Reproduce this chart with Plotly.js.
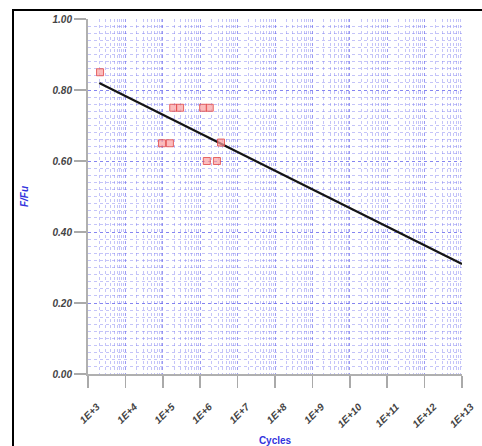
<!DOCTYPE html>
<html>
<head>
<meta charset="utf-8">
<script src="https://cdn.plot.ly/plotly-3.0.1.min.js"></script>
<style>
  html, body { margin: 0; padding: 0; background: #fff; }
  #wrap { position: relative; width: 482px; height: 446px; overflow: hidden; }
  #frame { position: absolute; left: 12px; top: 9px; width: 480px; height: 450px; border-left: 2px solid #000; border-top: 2px solid #000; pointer-events: none; }
  #chart { position: absolute; left: 0; top: 0; width: 482px; height: 446px; }
</style>
</head>
<body>
<div id="wrap">
  <div id="chart"></div>
  <div id="frame"></div>
</div>
<script>
// Test points (cycles, F/Fu)
var pointCycles = [2100, 1.9e5, 2.9e5, 1.2e6, 1.8e6, 9.5e4, 1.55e5, 3.6e6, 1.5e6, 2.8e6];
var pointRatio  = [0.85, 0.75, 0.75, 0.75, 0.75, 0.65, 0.65, 0.652, 0.60, 0.60];
// Fitted S-N line endpoints
var lineCycles = [2000, 1e13];
var lineRatio  = [0.82, 0.31];
// Axis ticks
var xTickVals = [1e3, 1e4, 1e5, 1e6, 1e7, 1e8, 1e9, 1e10, 1e11, 1e12, 1e13];
var xTickText = ['1E+3','1E+4','1E+5','1E+6','1E+7','1E+8','1E+9','1E+10','1E+11','1E+12','1E+13'];
var yTickVals = [0, 0.2, 0.4, 0.6, 0.8, 1.0];
var yTickText = ['0.00','0.20','0.40','0.60','0.80','1.00'];

var gridMajor = 'rgba(100,100,235,0.65)';
var gridMinor = 'rgba(125,125,240,0.45)';
var traces = [
  {
    x: lineCycles, y: lineRatio, type: 'scatter', mode: 'lines',
    line: {color: '#151515', width: 2.2}, hoverinfo: 'skip'
  },
  {
    x: pointCycles, y: pointRatio, type: 'scatter', mode: 'markers',
    marker: {symbol: 'square', size: 7, color: 'rgba(250,160,160,0.7)', line: {color: 'rgba(225,70,70,0.8)', width: 1}}
  }
];
var tickFont = {family: 'Liberation Sans, Arial, sans-serif', size: 10, color: '#444', style: 'italic', weight: 'bold'};
var layout = {
  width: 482, height: 446,
  margin: {l: 88, r: 20, t: 19, b: 72},
  paper_bgcolor: '#fff', plot_bgcolor: '#fff',
  showlegend: false,
  xaxis: {
    type: 'log', range: [3, 13],
    tickvals: xTickVals, ticktext: xTickText, tickangle: -45,
    tickfont: tickFont,
    ticks: 'outside', ticklen: 12, tickwidth: 1.5, tickcolor: '#aaa',
    showline: true, linecolor: '#b0b0b0', linewidth: 2,
    showgrid: true, gridcolor: gridMajor, griddash: 'dot', gridwidth: 1,
    minor: {tickvals: [], showgrid: true, gridcolor: gridMinor, griddash: 'dot', gridwidth: 1, ticks: ''},
    zeroline: false,
    ticklabelshift: 9, ticklabelstandoff: 9,
    title: {text: 'Cycles', font: {family: 'Liberation Sans, Arial, sans-serif', size: 10, color: '#3333dd', weight: 'bold'}, standoff: 15}
  },
  yaxis: {
    range: [0, 1],
    tickvals: yTickVals, ticktext: yTickText,
    tickfont: tickFont,
    ticks: 'outside', ticklen: 12, tickwidth: 1.5, tickcolor: '#aaa',
    showline: true, linecolor: '#b0b0b0', linewidth: 2,
    showgrid: true, gridcolor: gridMajor, griddash: 'dot', gridwidth: 1,
    minor: {dtick: 0.02, showgrid: true, gridcolor: gridMinor, griddash: 'dot', gridwidth: 1, ticks: ''},
    zeroline: false,
    title: {text: 'F/Fu', font: {family: 'Liberation Sans, Arial, sans-serif', size: 10, color: '#3333dd', weight: 'bold', style: 'italic'}, standoff: 22}
  }
};
// minor vertical grid at 2..9 of each decade
var mv = [];
for (var d = 3; d < 13; d++) { for (var k = 2; k <= 9; k++) { mv.push(k * Math.pow(10, d)); } }
layout.xaxis.minor.tickvals = mv;
Plotly.newPlot('chart', traces, layout, {displayModeBar: false, staticPlot: true});
</script>
</body>
</html>
